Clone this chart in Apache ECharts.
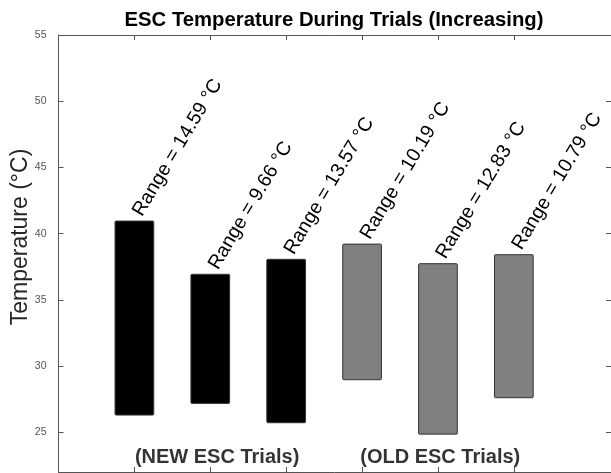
<!DOCTYPE html>
<html><head><meta charset="utf-8">
<script src="https://cdn.jsdelivr.net/npm/echarts@6/dist/echarts.min.js"></script>
<style>html,body{margin:0;padding:0;background:#fff}#c{width:611px;height:473px}</style>
</head><body><div id="c"></div>
<script>
// ---- data ----
const trials = [1, 2, 3, 4, 5, 6];
const lowTemps = [26.3, 27.18, 25.72, 28.97, 24.86, 27.61];
const highTemps = [40.95, 36.93, 38.06, 39.21, 37.73, 38.41];
const rangeLabels = ['Range = 14.59 °C', 'Range = 9.66 °C', 'Range = 13.57 °C',
                     'Range = 10.19 °C', 'Range = 12.83 °C', 'Range = 10.79 °C'];
const groupNames = ['(NEW ESC Trials)', '(OLD ESC Trials)'];
const groupLabelX = [2.09, 5.03];
const groupLabelY = 23.09;
const yTicks = [25, 30, 35, 40, 45, 50, 55];
const xTicks = [1, 2, 3, 4, 5, 6];
const titleText = 'ESC Temperature During Trials (Increasing)';
const yName = 'Temperature (°C)';

// ---- style ----
const BAR_HALF = 0.255;
const FONT = '"Liberation Sans", Arial, Helvetica, sans-serif';
const AX = '#555';
const barFill = i => (i < 3 ? '#000000' : '#808080');

const chart = echarts.init(document.getElementById('c'), null, {renderer: 'canvas'});

function xAx(pos) {
  return {
    type: 'value', min: 0, max: 7.28, position: pos,
    axisLine: {show: true, onZero: false, lineStyle: {color: AX, width: 1}},
    axisTick: {show: true, inside: true, length: 5, customValues: xTicks, lineStyle: {color: AX}},
    axisLabel: {show: false},
    splitLine: {show: false}
  };
}
function yAx(pos, labels) {
  return {
    type: 'value', min: 22, max: 55, position: pos,
    axisLine: {show: true, onZero: false, lineStyle: {color: AX, width: 1}},
    axisTick: {show: true, inside: true, length: 5, customValues: yTicks, lineStyle: {color: AX}},
    axisLabel: {show: labels, customValues: yTicks, fontSize: 10.5, color: '#555', margin: 12, fontFamily: FONT},
    splitLine: {show: false}
  };
}

chart.setOption({
  animation: false,
  grid: {left: 58.5, right: -1, top: 35, bottom: 1, containLabel: false},
  xAxis: [xAx('bottom'), xAx('top')],
  yAxis: [yAx('left', true), yAx('right', false)],
  graphic: [
    {type: 'text', x: 334, y: 20, style: {text: titleText, font: 'bold 20.3px ' + FONT, fill: '#000', align: 'center', verticalAlign: 'middle'}},
    {type: 'text', x: 21, y: 237, rotation: Math.PI / 2, style: {text: yName, font: '23px ' + FONT, fill: '#262626', align: 'center', verticalAlign: 'middle'}}
  ],
  series: [
    {
      type: 'custom',
      xAxisIndex: 0, yAxisIndex: 0,
      data: trials.map((t, i) => [t, lowTemps[i], highTemps[i]]),
      encode: {x: 0, y: [1, 2]},
      renderItem: function (params, api) {
        const x = api.value(0), lo = api.value(1), hi = api.value(2);
        const i = params.dataIndex;
        const tl = api.coord([x - BAR_HALF, hi]);
        const br = api.coord([x + BAR_HALF, lo]);
        const top = api.coord([x, hi]);
        return {
          type: 'group',
          children: [
            {type: 'rect', shape: {x: tl[0], y: tl[1], width: br[0] - tl[0], height: br[1] - tl[1], r: 1},
             style: {fill: barFill(i), stroke: '#333', lineWidth: 1}},
            {type: 'text', x: top[0] + 3, y: top[1] - 6.6, rotation: 59 * Math.PI / 180,
             style: {text: rangeLabels[i], font: '19.5px ' + FONT, fill: '#000', align: 'left', verticalAlign: 'middle'}}
          ]
        };
      }
    },
    {
      type: 'scatter',
      xAxisIndex: 0, yAxisIndex: 0,
      symbolSize: 0,
      silent: true,
      data: groupLabelX.map(x => [x, groupLabelY]),
      label: {
        show: true, position: 'inside',
        formatter: p => groupNames[p.dataIndex],
        fontFamily: FONT, fontWeight: 'bold', fontSize: 20, color: '#000'
      }
    }
  ]
});
</script>
</body></html>
